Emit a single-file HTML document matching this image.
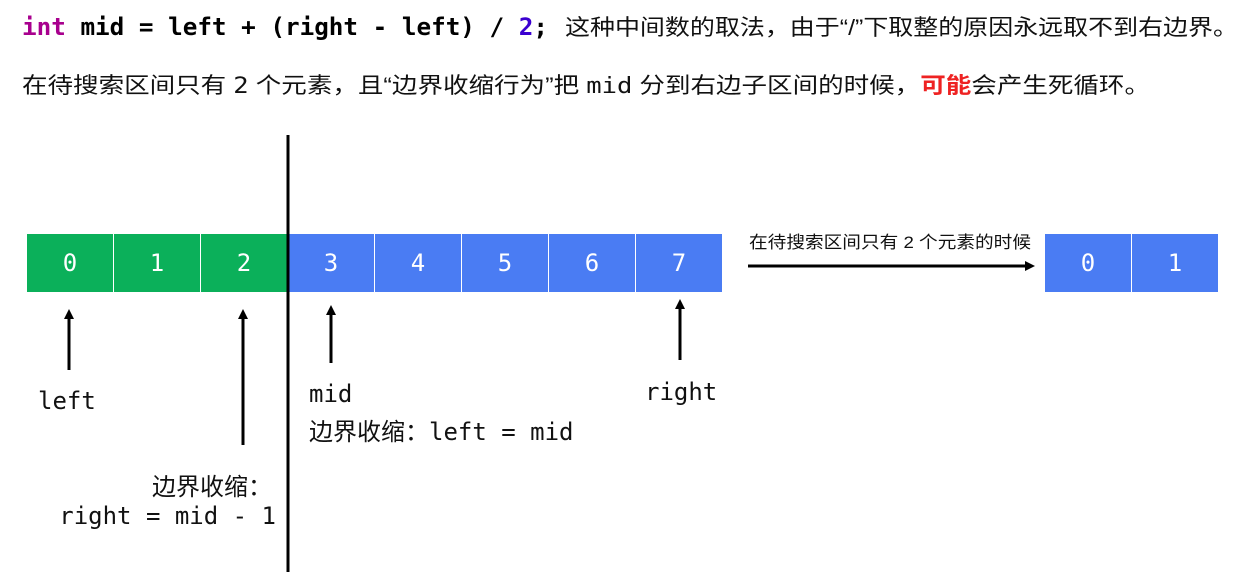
<!DOCTYPE html>
<html><head><meta charset="utf-8"><style>
html,body{margin:0;padding:0;background:#fff;width:1249px;height:581px;overflow:hidden}
svg{display:block}
.m{font-family:"DejaVu Sans Mono","Liberation Mono",monospace}
.c{font-family:"Liberation Sans","Noto Sans CJK SC",sans-serif}
</style></head><body>
<svg width="1249" height="581" viewBox="0 0 1249 581" xmlns="http://www.w3.org/2000/svg">
<defs><marker id="ah" markerWidth="10" markerHeight="10" refX="5" refY="5" orient="auto" markerUnits="userSpaceOnUse"><path d="M0,0 L10,5 L0,10 z" fill="#000"/></marker></defs>
<text x="22" y="35" class="m" font-size="24" font-weight="bold" textLength="526" lengthAdjust="spacingAndGlyphs"><tspan fill="#a8008e">int</tspan> mid = left + (right - left) / <tspan fill="#3b00d0">2</tspan>;</text>
<text x="565" y="35" class="c" font-size="22" textLength="673" lengthAdjust="spacingAndGlyphs" fill="#111">这种中间数的取法，由于“/”下取整的原因永远取不到右边界。</text>
<text x="22" y="93" class="c" font-size="22" textLength="1128" lengthAdjust="spacingAndGlyphs" fill="#111">在待搜索区间只有 <tspan class="m">2</tspan> 个元素，且“边界收缩行为”把 <tspan class="m">mid</tspan> 分到右边子区间的时候，<tspan fill="#ee2222" font-weight="bold">可能</tspan>会产生死循环。</text>
<g fill="#0bb05a">
<rect x="27" y="234" width="86" height="58"/><rect x="114" y="234" width="86" height="58"/><rect x="201" y="234" width="86" height="58"/>
</g>
<g fill="#4a7cf3">
<rect x="288" y="234" width="86" height="58"/><rect x="375" y="234" width="86" height="58"/><rect x="462" y="234" width="86" height="58"/><rect x="549" y="234" width="86" height="58"/><rect x="636" y="234" width="86" height="58"/>
<rect x="1045" y="234" width="86" height="58"/><rect x="1132" y="234" width="86" height="58"/>
</g>
<g class="m" font-size="24" fill="#fff" text-anchor="middle">
<text x="70" y="271">0</text><text x="157" y="271">1</text><text x="244" y="271">2</text><text x="331" y="271">3</text><text x="418" y="271">4</text><text x="505" y="271">5</text><text x="592" y="271">6</text><text x="679" y="271">7</text>
<text x="1088" y="271">0</text><text x="1175" y="271">1</text>
</g>
<line x1="288" y1="135" x2="288" y2="572" stroke="#000" stroke-width="3"/>
<g stroke="#000" stroke-width="3">
<line x1="69" y1="370" x2="69" y2="314" marker-end="url(#ah)"/>
<line x1="243" y1="445" x2="243" y2="314" marker-end="url(#ah)"/>
<line x1="331" y1="363" x2="331" y2="310" marker-end="url(#ah)"/>
<line x1="680" y1="360" x2="680" y2="304" marker-end="url(#ah)"/>
<line x1="748" y1="266" x2="1030" y2="266" marker-end="url(#ah)"/>
</g>
<text x="749" y="248" class="c" font-size="17" fill="#111" textLength="282" lengthAdjust="spacingAndGlyphs">在待搜索区间只有 2 个元素的时候</text>
<g class="m" font-size="24" fill="#111">
<text x="38" y="409">left</text>
<text x="309" y="402">mid</text>
<text x="645" y="400">right</text>
<text x="309" y="440"><tspan class="c">边界收缩：</tspan>left = mid</text>
<text x="272" y="495" text-anchor="end" class="c">边界收缩：</text>
<text x="276" y="524" text-anchor="end">right = mid - 1</text>
</g>
</svg>
</body></html>
